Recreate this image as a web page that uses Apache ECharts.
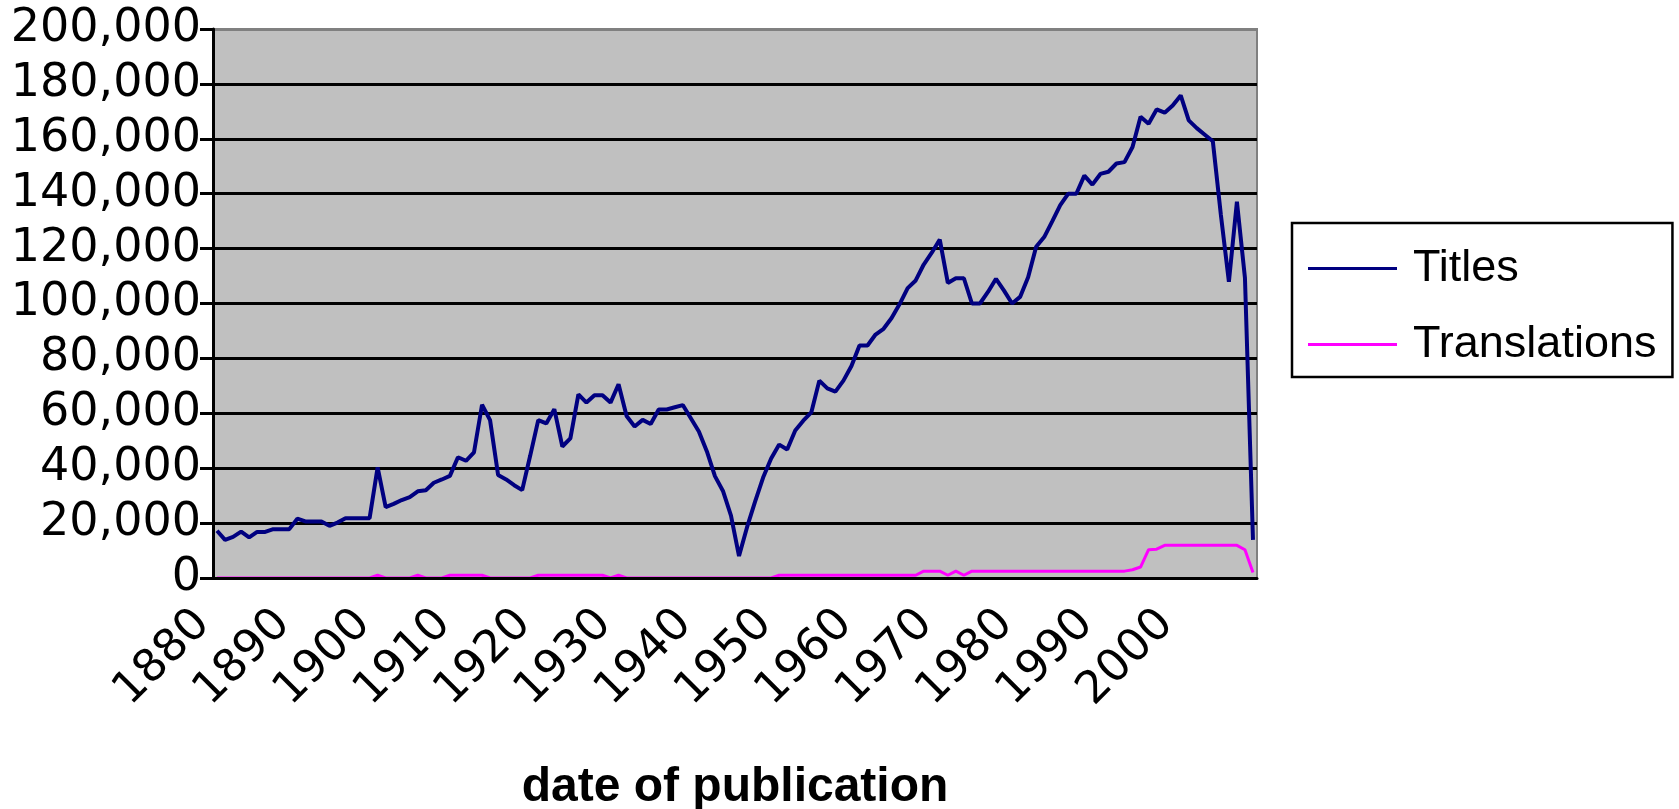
<!DOCTYPE html>
<html>
<head>
<meta charset="utf-8">
<script src="https://cdn.jsdelivr.net/npm/echarts@6/dist/echarts.min.js"></script>
<style>
  html, body { margin: 0; padding: 0; background: #fff; }
  #chart { width: 1679px; height: 809px; }
</style>
</head>
<body>
<div id="chart"></div>
<script>
// years 1880 .. 2009, one category per year
const years = []
for (let y = 1880; y <= 2009; y++) years.push(String(y))

const titles = [
  17200, 13900, 15000, 16900, 14800, 16800, 16800, 17800, 17800, 17800,
  21600, 20600, 20600, 20600, 19000, 20200, 21800, 21800, 21800, 21800,
  40300, 25800, 27000, 28400, 29500, 31600, 32000, 34700, 35900, 37200,
  44000, 42700, 45800, 63100, 57500, 37500, 35900, 33800, 32000, 44600,
  57500, 56300, 61500, 47900, 50900, 66900, 63900, 66600, 66600, 63900,
  70600, 59000, 55200, 57600, 56100, 61400, 61400, 62200, 63000, 58200,
  53400, 46100, 37100, 31700, 22700, 8000, 18500, 27800, 36600, 43500,
  48600, 46800, 53700, 57300, 60300, 71900, 69100, 67900, 71900, 77200,
  84700, 84700, 88700, 90800, 94700, 99800, 105600, 108400, 114200, 118500,
  123300, 107500, 109200, 109200, 100000, 100000, 104200, 109000, 104700, 100000,
  102400, 109600, 120700, 124200, 129900, 135800, 140000, 140000, 146600, 143300,
  147200, 148000, 151000, 151500, 157000, 168000, 165500, 170700, 169500, 172100,
  175800, 166700, 163900, 161500, 159100, 132300, 107900, 137100, 109300, 13900
]

const translations = [
  0, 0, 0, 0, 0, 0, 0, 0, 0, 0,
  0, 0, 0, 0, 0, 0, 0, 0, 0, 0,
  1000, 0, 0, 0, 0, 1000, 0, 0, 0, 1000,
  1000, 1000, 1000, 1000, 0, 0, 0, 0, 0, 0,
  1000, 1000, 1000, 1000, 1000, 1000, 1000, 1000, 1000, 0,
  1000, 0, 0, 0, 0, 0, 0, 0, 0, 0,
  0, 0, 0, 0, 0, 0, 0, 0, 0, 0,
  1000, 1000, 1000, 1000, 1000, 1000, 1000, 1000, 1000, 1000,
  1000, 1000, 1000, 1000, 1000, 1000, 1000, 1000, 2500, 2500,
  2500, 1000, 2500, 1000, 2500, 2500, 2500, 2500, 2500, 2500,
  2500, 2500, 2500, 2500, 2500, 2500, 2500, 2500, 2500, 2500,
  2500, 2500, 2500, 2500, 3000, 4000, 10300, 10500, 11900, 11900,
  11900, 11900, 11900, 11900, 11900, 11900, 11900, 11900, 10300, 2000
]

const yTicks = [0, 20000, 40000, 60000, 80000, 100000, 120000, 140000, 160000, 180000, 200000]

const font = "'Liberation Sans', Arial, sans-serif"
// the original's digits are drawn wide, DejaVu Sans is closer in width
const numFont = "'DejaVu Sans', 'Liberation Sans', sans-serif"

const chart = echarts.init(document.getElementById('chart'))

// grid lines black, the top one (200,000) is the grey plot border
const gridColors = yTicks.map((v, i) => (i === yTicks.length - 1 ? '#808080' : '#000000'))

const option = {
  animation: false,
  backgroundColor: '#ffffff',
  grid: {
    left: 213,
    top: 29,
    width: 1044,
    height: 549,
    outerBoundsMode: 'none',
    show: true,
    backgroundColor: '#c0c0c0',
    borderColor: '#808080',
    borderWidth: 2
  },
  legend: {
    orient: 'vertical',
    left: 1292,
    top: 223,
    padding: [23, 16, 10, 16],
    itemGap: 31,
    itemWidth: 89,
    itemHeight: 3,
    icon: 'rect',
    borderColor: '#000',
    borderWidth: 2.5,
    backgroundColor: '#fff',
    textStyle: {
      fontFamily: font,
      fontSize: 45,
      color: '#000',
      lineHeight: 44,
      padding: [0, 0, 0, 11]
    },
    data: ['Titles', 'Translations']
  },
  xAxis: {
    type: 'category',
    data: years,
    boundaryGap: true,
    z: 3,
    name: 'date of publication',
    nameLocation: 'middle',
    nameGap: 186,
    nameTextStyle: {
      fontFamily: font,
      fontWeight: 'bold',
      fontSize: 48,
      color: '#000'
    },
    axisLine: { lineStyle: { color: '#000', width: 3 } },
    axisTick: { interval: 9, length: 14, lineStyle: { color: '#000', width: 3 } },
    axisLabel: {
      interval: 9,
      rotate: 45,
      margin: 25,
      padding: [0, 20, 0, 0],
      fontFamily: numFont,
      fontSize: 45,
      color: '#000'
    },
    splitLine: { show: false }
  },
  yAxis: {
    type: 'value',
    min: 0,
    max: 200000,
    interval: 20000,
    axisLine: { show: true, lineStyle: { color: '#000', width: 3 } },
    axisTick: { show: true, length: 13, lineStyle: { color: '#000', width: 3 } },
    axisLabel: {
      margin: 12,
      fontFamily: numFont,
      fontSize: 46,
      color: '#000',
      formatter: v => v.toLocaleString('en-US')
    },
    splitLine: { show: true, lineStyle: { color: gridColors, width: 3 } }
  },
  series: [
    {
      name: 'Titles',
      type: 'line',
      data: titles,
      symbol: 'none',
      itemStyle: { color: '#000080' },
      lineStyle: { color: '#000080', width: 4 },
      z: 4
    },
    {
      name: 'Translations',
      type: 'line',
      data: translations,
      symbol: 'none',
      itemStyle: { color: '#ff00ff' },
      lineStyle: { color: '#ff00ff', width: 3 },
      z: 2
    }
  ]
}

chart.setOption(option)
window.addEventListener('resize', () => chart.resize())
</script>
</body>
</html>
